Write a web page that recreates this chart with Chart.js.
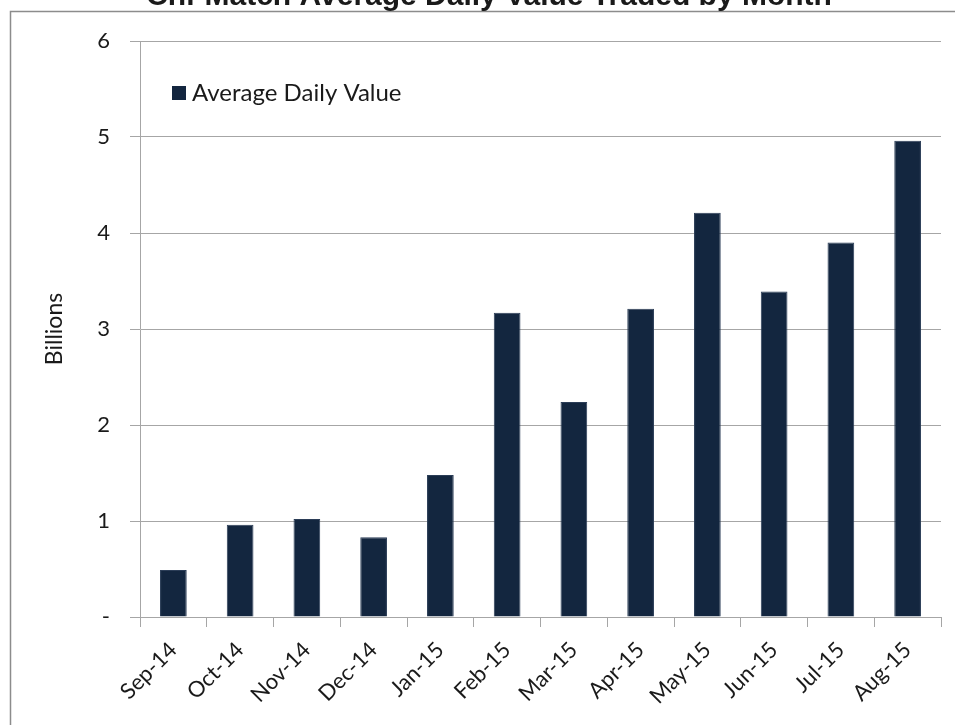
<!DOCTYPE html>
<html>
<head>
<meta charset="utf-8">
<script src="https://cdn.jsdelivr.net/npm/chart.js@4"></script>
<style>
  html, body { margin: 0; padding: 0; background: #ffffff; }
  #wrap { width: 955px; height: 725px; position: relative; }
</style>
</head>
<body>
<div id="wrap"><canvas id="chart-bar-1"></canvas></div>
<script>
// data
var months = ['Sep-14', 'Oct-14', 'Nov-14', 'Dec-14', 'Jan-15', 'Feb-15',
              'Mar-15', 'Apr-15', 'May-15', 'Jun-15', 'Jul-15', 'Aug-15'];
var avgDailyValue = [0.49, 0.96, 1.02, 0.83, 1.48, 3.17, 2.24, 3.21, 4.21, 3.39, 3.90, 4.96];
var seriesName = 'Average Daily Value';
var chartTitle = 'Chi-Match Average Daily Value Traded by Month';
var yTicks = [0, 1, 2, 3, 4, 5, 6];

var barColor = '#13263f';
var gridColor = '#a6a6a6';
var textFont = 'Lato, "Open Sans", sans-serif';

// title (cut off at the top), outer frame and in-plot legend
var decorPlugin = {
    id: 'decor',
    afterDraw: function (chart) {
        var ctx = chart.ctx;
        var area = chart.chartArea;
        ctx.save();
        ctx.strokeStyle = '#8c8c8c';
        ctx.lineWidth = 1.5;
        ctx.beginPath();
        ctx.moveTo(10.5, 725);
        ctx.lineTo(10.5, 11.5);
        ctx.lineTo(955, 11.5);
        ctx.stroke();

        ctx.fillStyle = '#1a1a1a';
        ctx.font = 'bold 30px "Liberation Sans", Arial, sans-serif';
        ctx.textAlign = 'center';
        ctx.textBaseline = 'alphabetic';
        ctx.fillText(chartTitle, 489, 5);

        var ds = chart.data.datasets[0];
        var lx = area.left + 32, ly = area.top + 52;
        ctx.fillStyle = ds.backgroundColor;
        ctx.fillRect(lx, ly - 7, 14, 14);
        ctx.fillStyle = '#1a1a1a';
        ctx.font = '24px ' + textFont;
        ctx.textAlign = 'left';
        ctx.textBaseline = 'middle';
        ctx.fillText(ds.label, lx + 20, ly);
        ctx.restore();
    }
};

var bar = document.getElementById('chart-bar-1').getContext('2d');
var myBarChart = new Chart(bar, {
    type: 'bar',
    data: {
        labels: months,
        datasets: [{
            label: seriesName,
            data: avgDailyValue,
            backgroundColor: barColor,
            borderColor: '#2b3d57',
            borderWidth: 1,
            barPercentage: 0.4,
            categoryPercentage: 1.0
        }]
    },
    plugins: [decorPlugin],
    options: {
        responsive: true,
        maintainAspectRatio: false,
        animation: false,
        layout: { padding: { left: 0, top: 41, right: 14, bottom: 0 } },
        plugins: {
            legend: { display: false },
            title: { display: false },
            tooltip: { enabled: false }
        },
        scales: {
            x: {
                grid: {
                    offset: true,
                    drawOnChartArea: false,
                    drawTicks: true,
                    tickLength: 10,
                    color: gridColor
                },
                border: { color: gridColor, width: 1 },
                ticks: {
                    minRotation: 45,
                    maxRotation: 45,
                    color: '#1a1a1a',
                    padding: 10,
                    font: { family: textFont, size: 22 }
                },
                afterFit: function (scale) { scale.height = 108; }
            },
            y: {
                min: 0,
                max: 6,
                afterBuildTicks: function (scale) {
                    scale.ticks = yTicks.map(function (v) { return { value: v }; });
                },
                grid: {
                    color: gridColor,
                    drawTicks: true,
                    tickLength: 10
                },
                border: { color: gridColor, width: 1 },
                ticks: {
                    color: '#1a1a1a',
                    padding: 20,
                    font: { family: textFont, size: 22 },
                    callback: function (v) { return v === 0 ? '-' : v; }
                },
                title: {
                    display: true,
                    text: 'Billions',
                    color: '#1a1a1a',
                    font: { family: textFont, size: 23 },
                    padding: { top: 41, bottom: 0 }
                },
                afterFit: function (scale) { scale.width = 140; }
            }
        }
    }
});
</script>
</body>
</html>
